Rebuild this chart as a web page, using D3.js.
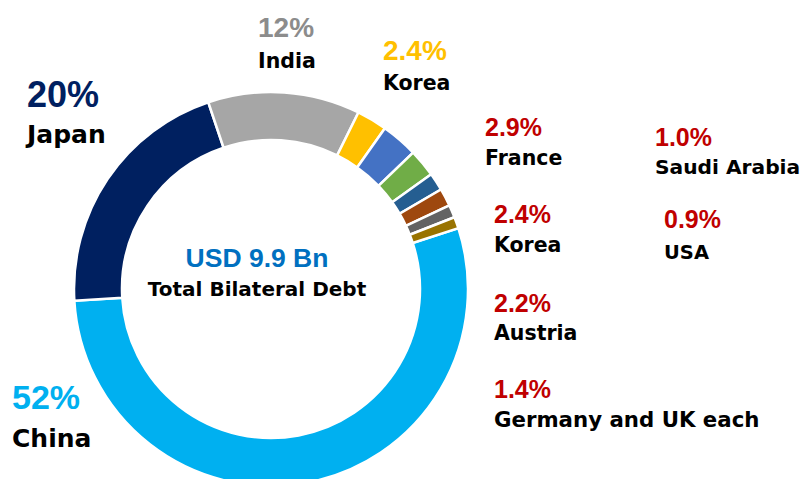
<!DOCTYPE html>
<html>
<head>
<meta charset="utf-8">
<script src="https://cdn.jsdelivr.net/npm/d3@7"></script>
<style>
    body { margin: 0; background: #fff; }
    text { font-family: "DejaVu Sans", sans-serif; font-weight: bold; }
    text.pct, text.total { font-family: "Liberation Sans", Arial, sans-serif; }
</style>
</head>
<body>
<svg id="chart" width="804" height="479"></svg>
<script>

// slices, clockwise from China
const countries = ['China', 'Japan', 'India', 'Korea', 'France', 'Austria', 'Germany', 'UK', 'Saudi Arabia', 'USA'];
const shares = [52, 20, 12, 2.4, 2.9, 2.2, 1.4, 1.4, 1.0, 0.9];
const colors = ['#00b0f0', '#002060', '#a6a6a6', '#ffc000', '#4472c4', '#70ad47', '#255e91', '#9e480e', '#636363', '#997300'];

// callout labels as printed on the slide
const label_pcts = ['52%', '20%', '12%', '2.4%', '2.9%', '2.4%', '2.2%', '1.4%', '1.0%', '0.9%'];
const label_names = ['China', 'Japan', 'India', 'Korea', 'France', 'Korea', 'Austria', 'Germany and UK each', 'Saudi Arabia', 'USA'];
const label_colors = ['#00b0f0', '#002060', '#8c8c8c', '#ffc000', '#c00000', '#c00000', '#c00000', '#c00000', '#c00000', '#c00000'];

const total_text = ['USD 9.9 Bn', 'Total Bilateral Debt'];

// where each callout sits: x, baseline of pct, baseline of name, pct size, name size
const label_layout = [
    [12, 409, 447, 34, 25],
    [27, 107, 143, 36, 25],
    [258, 37, 68, 28, 20.5],
    [383, 60, 90, 28, 20.5],
    [485, 136, 165, 25, 20.5],
    [494, 223, 252, 25, 20.5],
    [494, 312, 340, 25, 20.5],
    [494, 398, 427, 25, 21.3],
    [655, 146, 174, 25, 20.2],
    [664, 228, 259, 25, 19.5]
];

let svg = d3.select('#chart'),
    cx = 271,   // ring center x
    cy = 289,   // ring center y
    r_out = 197,
    r_in = 149;

let start = 72 * Math.PI / 180;

let pie = d3.pie()
    .sort(null)
    .value(d => d)
    .startAngle(start)
    .endAngle(start + 2 * Math.PI);

let arc = d3.arc()
    .innerRadius(r_in)
    .outerRadius(r_out);

let ring = svg.append('g')
    .attr('transform', 'translate(' + cx + ',' + cy + ')');

ring.selectAll('path')
    .data(pie(shares))
    .enter()
    .append('path')
    .attr('d', arc)
    .attr('fill', (d, i) => colors[i])
    .attr('stroke', '#fff')
    .attr('stroke-width', 2.5);

// center caption
let center = svg.append('g')
    .attr('text-anchor', 'middle');

center.append('text')
    .attr('class', 'total')
    .attr('x', 257)
    .attr('y', 267)
    .attr('font-size', 26.5)
    .attr('fill', '#0070c0')
    .text(total_text[0]);

center.append('text')
    .attr('x', 257)
    .attr('y', 296)
    .attr('font-size', 20)
    .attr('fill', '#000')
    .text(total_text[1]);

// callouts
let labels = svg.selectAll('g.label')
    .data(label_names)
    .enter()
    .append('g')
    .attr('class', 'label');

labels.append('text')
    .attr('class', 'pct')
    .attr('x', (d, i) => label_layout[i][0])
    .attr('y', (d, i) => label_layout[i][1])
    .attr('font-size', (d, i) => label_layout[i][3])
    .attr('fill', (d, i) => label_colors[i])
    .text((d, i) => label_pcts[i]);

labels.append('text')
    .attr('x', (d, i) => label_layout[i][0])
    .attr('y', (d, i) => label_layout[i][2])
    .attr('font-size', (d, i) => label_layout[i][4])
    .attr('fill', '#000')
    .text(d => d);

</script>
</body>
</html>
